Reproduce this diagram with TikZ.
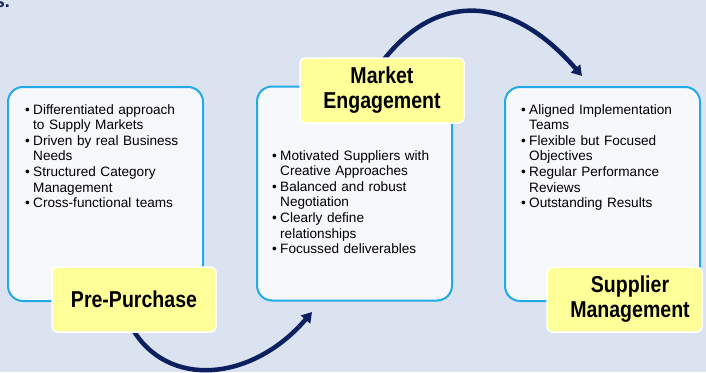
\documentclass[tikz,border=0pt]{standalone}
\usepackage{fontspec}
\setmainfont{Liberation Sans}
\newfontfamily\labelfont[FakeStretch=0.85]{Liberation Sans}
\usetikzlibrary{arrows.meta}
\definecolor{bg}{HTML}{DAE3EF}
\definecolor{panelfill}{HTML}{F7F8FC}
\definecolor{panelline}{HTML}{22AAE8}
\definecolor{labelyellow}{HTML}{FFFF99}
\definecolor{navy}{HTML}{0C1F5E}
\newcommand\bmark{\makebox[0pt][r]{\makebox[8pt][l]{\textbullet}}}
\begin{document}
\begin{tikzpicture}[x=1pt,y=-1pt,
  panel/.style={draw=panelline, fill=panelfill, line width=2pt, rounded corners=15pt, minimum width=195, minimum height=214, inner sep=0},
  btext/.style={anchor=north west, inner sep=0, text width=180, align=left, font=\fontsize{13.6}{15.6}\selectfont},
  labelbox/.style={draw=white, fill=labelyellow, line width=1.5pt, rounded corners=5pt, minimum height=65, inner sep=0},
  labeltext/.style={inner sep=0, align=center, font=\labelfont\bfseries\fontsize{23}{25}\selectfont},
  flow/.style={draw=navy, line width=4.5pt, -{Triangle[length=10pt,width=12pt]}}
]
\useasboundingbox[fill=bg] (0,0) rectangle (706,372);
\node[anchor=base east, inner sep=0, text=navy, font=\bfseries\fontsize{18}{20}\selectfont] (frag) at (10,8) {s.};

% panels
\node[panel] (p1) at (105.5,194) {};
\node[panel] (p2) at (354.5,193.5) {};
\node[panel] (p3) at (602.5,194) {};

% panel texts
\node[btext] (t1) at (33,104) {%
\bmark Differentiated approach\\to Supply Markets\\
\bmark Driven by real Business\\Needs\\
\bmark Structured Category\\Management\\
\bmark Cross-functional teams};
\node[btext] (t2) at (280,150) {%
\bmark Motivated Suppliers with\\Creative Approaches\\
\bmark Balanced and robust\\Negotiation\\
\bmark Clearly define\\relationships\\
\bmark Focussed deliverables};
\node[btext] (t3) at (529,104) {%
\bmark Aligned Implementation\\Teams\\
\bmark Flexible but Focused\\Objectives\\
\bmark Regular Performance\\Reviews\\
\bmark Outstanding Results};

% connectors (behind labels)
\coordinate (e1) at (312,312);
\coordinate (e2) at (582,76);
\coordinate (s1) at (132,328);
\coordinate (s2) at (382,62);
\draw[flow] (s1) .. controls (167,389) and (252,382) .. (e1);
\draw[flow] (s2) .. controls (437,-10) and (512,-5) .. (e2);

% labels
\node[labelbox, minimum width=164] (pre) at (134,299.5) {};
\node[labeltext] (pretext) at (134,299.5) {Pre-Purchase};
\node[labelbox, minimum width=164] (mkt) at (382,90.5) {};
\node[labeltext] (mkttext) at (382,90.5) {Market\\Engagement};
\node[labelbox, minimum width=155] (sup) at (624.5,299.5) {};
\node[labeltext] (suptext) at (630,299.5) {Supplier\\Management};
\end{tikzpicture}
\end{document}
